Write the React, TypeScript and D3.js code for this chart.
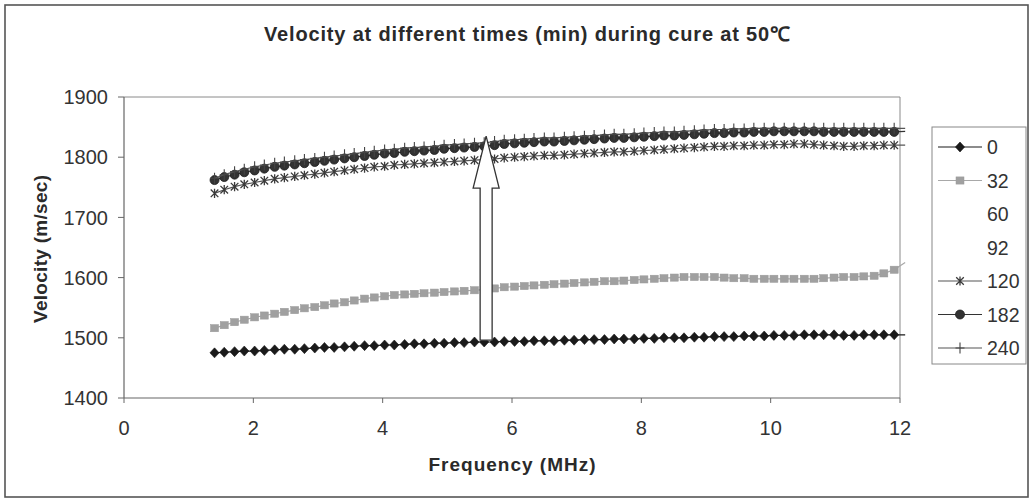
import React from 'react';
import * as d3 from 'd3';

const frequencies = [
  1.40, 1.55, 1.71, 1.86, 2.02, 2.17, 2.33, 2.48, 2.64, 2.79,
  2.95, 3.10, 3.25, 3.41, 3.56, 3.72, 3.87, 4.03, 4.18, 4.34,
  4.49, 4.64, 4.80, 4.95, 5.11, 5.26, 5.42, 5.57, 5.73, 5.88,
  6.04, 6.19, 6.34, 6.50, 6.65, 6.81, 6.96, 7.12, 7.27, 7.43,
  7.58, 7.73, 7.89, 8.04, 8.20, 8.35, 8.51, 8.66, 8.82, 8.97,
  9.13, 9.28, 9.43, 9.59, 9.74, 9.90, 10.05, 10.21, 10.36, 10.52,
  10.67, 10.82, 10.98, 11.13, 11.29, 11.44, 11.60, 11.75, 11.91,
];
const tailFrequency = 12.08;

const v0 = [
  1475, 1476, 1477, 1478, 1478, 1479, 1480, 1481, 1481, 1482,
  1483, 1484, 1484, 1485, 1486, 1487, 1487, 1488, 1488, 1489,
  1490, 1490, 1491, 1491, 1492, 1492, 1493, 1493, 1493, 1494,
  1494, 1494, 1495, 1495, 1495, 1496, 1496, 1497, 1497, 1497,
  1498, 1498, 1498, 1499, 1499, 1500, 1500, 1500, 1501, 1501,
  1502, 1502, 1502, 1503, 1503, 1503, 1504, 1504, 1504, 1505,
  1505, 1505, 1505, 1504, 1504, 1505, 1505, 1505, 1505,
];
const v32 = [
  1516, 1521, 1526, 1530, 1534, 1537, 1540, 1543, 1546, 1549,
  1551, 1554, 1557, 1559, 1562, 1565, 1567, 1569, 1571, 1572,
  1573, 1574, 1575, 1576, 1577, 1578, 1579, 1580, 1582, 1584,
  1585, 1586, 1587, 1588, 1589, 1590, 1591, 1592, 1593, 1594,
  1594, 1595, 1596, 1597, 1598, 1599, 1600, 1601, 1601, 1601,
  1601, 1600, 1599, 1599, 1598, 1598, 1598, 1598, 1598, 1598,
  1598, 1599, 1600, 1601, 1601, 1602, 1603, 1607, 1613,
];
const v120 = [
  1740, 1746, 1751, 1755, 1758, 1761, 1764, 1766, 1768, 1770,
  1772, 1774, 1776, 1778, 1780, 1782, 1784, 1785, 1787, 1788,
  1789, 1790, 1791, 1792, 1793, 1794, 1795, 1796, 1797, 1799,
  1800, 1801, 1802, 1803, 1803, 1804, 1805, 1806, 1807, 1808,
  1809, 1809, 1810, 1811, 1812, 1813, 1814, 1815, 1816, 1817,
  1818, 1818, 1819, 1819, 1820, 1820, 1821, 1821, 1822, 1822,
  1821, 1820, 1819, 1818, 1818, 1819, 1819, 1820, 1820,
];
const v182 = [
  1762, 1767, 1771, 1775, 1778, 1781, 1784, 1786, 1788, 1790,
  1792, 1794, 1796, 1798, 1800, 1802, 1804, 1806, 1807, 1809,
  1810, 1811, 1812, 1814, 1815, 1816, 1817, 1818, 1820, 1822,
  1823, 1824, 1825, 1826, 1826, 1827, 1828, 1829, 1830, 1831,
  1832, 1832, 1833, 1834, 1835, 1836, 1836, 1837, 1838, 1839,
  1840, 1840, 1841, 1841, 1842, 1842, 1843, 1843, 1843, 1843,
  1843, 1842, 1842, 1842, 1842, 1842, 1842, 1842, 1842,
];
const v240 = [
  1765, 1771, 1776, 1780, 1784, 1787, 1790, 1792, 1794, 1796,
  1798, 1800, 1802, 1804, 1806, 1808, 1810, 1812, 1813, 1815,
  1816, 1817, 1818, 1820, 1821, 1822, 1823, 1824, 1826, 1828,
  1829, 1830, 1831, 1832, 1832, 1833, 1834, 1835, 1836, 1837,
  1838, 1838, 1839, 1840, 1841, 1842, 1842, 1843, 1844, 1845,
  1846, 1846, 1847, 1847, 1848, 1848, 1848, 1848, 1848, 1848,
  1848, 1848, 1848, 1848, 1848, 1848, 1848, 1848, 1848,
];

const legendNames = ['0', '32', '60', '92', '120', '182', '240'];
const tailValues = [1505, 1625, 1820, 1843, 1848];
const xTicks = [0, 2, 4, 6, 8, 10, 12];
const yTicks = [1400, 1500, 1600, 1700, 1800, 1900];
const arrowFrequency = 5.6;
const arrowFrom = 1496;
const arrowTo = 1835;

type Marker = 'diamond' | 'square' | 'none' | 'asterisk' | 'circle' | 'plus';
interface SeriesDef { name: string; values: number[] | null; tail: number | null; marker: Marker; line: string; fill: string; stroke: string; }

const seriesDefs: SeriesDef[] = [
  { name: legendNames[0], values: v0, tail: tailValues[0], marker: 'diamond', line: '#1a1a1a', fill: '#1a1a1a', stroke: '#1a1a1a' },
  { name: legendNames[1], values: v32, tail: tailValues[1], marker: 'square', line: '#a8a8a8', fill: '#a0a0a0', stroke: '#9a9a9a' },
  { name: legendNames[2], values: null, tail: null, marker: 'none', line: 'none', fill: 'none', stroke: 'none' },
  { name: legendNames[3], values: null, tail: null, marker: 'none', line: 'none', fill: 'none', stroke: 'none' },
  { name: legendNames[4], values: v120, tail: tailValues[2], marker: 'asterisk', line: '#555', fill: 'none', stroke: '#3a3a3a' },
  { name: legendNames[5], values: v182, tail: tailValues[3], marker: 'circle', line: '#333', fill: '#333', stroke: '#1e1e1e' },
  { name: legendNames[6], values: v240, tail: tailValues[4], marker: 'plus', line: '#555', fill: 'none', stroke: '#444' },
];

const FONT = '"Liberation Sans", Arial, Helvetica, sans-serif';

function MarkerShape({ kind, x, y, fill, stroke }: { kind: Marker; x: number; y: number; fill: string; stroke: string }) {
  switch (kind) {
    case 'diamond':
      return <path d={`M${x},${y - 5}L${x + 4.6},${y}L${x},${y + 5}L${x - 4.6},${y}Z`} fill={fill} stroke={stroke} strokeWidth={0.6} />;
    case 'square':
      return <rect x={x - 4} y={y - 3.6} width={8} height={7.2} fill={fill} stroke={stroke} strokeWidth={0.5} />;
    case 'circle':
      return <circle cx={x} cy={y} r={4.5} fill={fill} stroke={stroke} strokeWidth={0.8} />;
    case 'asterisk':
      return (
        <path d={`M${x - 3.8},${y - 3.8}L${x + 3.8},${y + 3.8}M${x - 3.8},${y + 3.8}L${x + 3.8},${y - 3.8}M${x},${y - 4.6}L${x},${y + 4.6}`}
          fill="none" stroke={stroke} strokeWidth={1.3} />
      );
    case 'plus':
      return <path d={`M${x - 4.5},${y}L${x + 4.5},${y}M${x},${y - 5.5}L${x},${y + 5.5}`} fill="none" stroke={stroke} strokeWidth={1.1} />;
    default:
      return null;
  }
}

export default function App() {
  const W = 1033, H = 501;
  const x = d3.scaleLinear().domain([0, 12]).range([124, 900]);
  const y = d3.scaleLinear().domain([1400, 1900]).range([398, 97]);
  const line = d3.line<[number, number]>().x(d => x(d[0])).y(d => y(d[1]));

  const ax = x(arrowFrequency);
  const ay0 = y(arrowFrom);
  const ay1 = y(arrowTo);
  const headH = 52, headW = 13, shaftW = 6;
  const arrowPts = [
    [ax - shaftW, ay0], [ax + shaftW, ay0], [ax + shaftW, ay1 + headH], [ax + headW, ay1 + headH],
    [ax, ay1], [ax - headW, ay1 + headH], [ax - shaftW, ay1 + headH],
  ].map(p => p.join(',')).join(' ');

  const legendX = 932, legendY = 127, legendW = 94, legendH = 237;
  const legendRow0 = 147, legendStep = 33.5;

  return (
    <svg width={W} height={H} style={{ position: 'absolute', left: 0, top: 0, background: '#fff' }} fontFamily={FONT}>
      <rect x={5} y={5} width={1023} height={492} fill="#fff" stroke="#555" strokeWidth={1.6} />
      <text x={527} y={41} textAnchor="middle" fontSize={20} fontWeight="bold" fill="#2a2a2a"
        textLength={526} lengthAdjust="spacing">
        Velocity at different times (min) during cure at 50℃
      </text>

      {/* plot frame */}
      <line x1={x(0)} x2={x(12)} y1={y(1900)} y2={y(1900)} stroke="#8a8a8a" strokeWidth={1} />
      <line x1={x(12)} x2={x(12)} y1={y(1900)} y2={y(1400)} stroke="#8a8a8a" strokeWidth={1} />
      <line x1={x(0)} x2={x(0)} y1={y(1900)} y2={y(1400)} stroke="#666" strokeWidth={1.2} />
      <line x1={x(0)} x2={x(12)} y1={y(1400)} y2={y(1400)} stroke="#666" strokeWidth={1.2} />

      {yTicks.map(t => (
        <g key={'y' + t}>
          <line x1={x(0) - 6} x2={x(0)} y1={y(t)} y2={y(t)} stroke="#666" strokeWidth={1} />
          <text x={108} y={y(t)} dy="0.36em" textAnchor="end" fontSize={20} fill="#333">{t}</text>
        </g>
      ))}
      {xTicks.map(t => (
        <g key={'x' + t}>
          <line x1={x(t)} x2={x(t)} y1={y(1400)} y2={y(1400) + 5} stroke="#666" strokeWidth={1} />
          <text x={x(t)} y={435} textAnchor="middle" fontSize={20} fill="#333">{t}</text>
        </g>
      ))}

      <text x={512} y={471} textAnchor="middle" fontSize={19} fontWeight="bold" fill="#2a2a2a"
        textLength={167} lengthAdjust="spacing">Frequency (MHz)</text>
      <text transform="translate(47,249) rotate(-90)" textAnchor="middle" fontSize={19} fontWeight="bold" fill="#2a2a2a"
        textLength={148} lengthAdjust="spacing">Velocity (m/sec)</text>

      {/* series */}
      {seriesDefs.map(s => {
        if (!s.values) return null;
        const pts: [number, number][] = frequencies.map((f, i) => [f, s.values![i]]);
        const full: [number, number][] = s.tail != null ? [...pts, [tailFrequency, s.tail]] : pts;
        return (
          <g key={'s' + s.name}>
            <path d={line(full) || ''} fill="none" stroke={s.line} strokeWidth={1.2} />
            {pts.map((p, i) => (
              <MarkerShape key={i} kind={s.marker} x={x(p[0])} y={y(p[1])} fill={s.fill} stroke={s.stroke} />
            ))}
          </g>
        );
      })}

      {/* arrow */}
      <polygon points={arrowPts} fill="#fff" stroke="#333" strokeWidth={1.3} />

      {/* legend */}
      <rect x={legendX} y={legendY} width={legendW} height={legendH} fill="#fff" stroke="#888" strokeWidth={1} />
      {seriesDefs.map((s, i) => {
        const ly = legendRow0 + i * legendStep;
        return (
          <g key={'l' + s.name}>
            {s.line !== 'none' && <line x1={938} x2={982} y1={ly} y2={ly} stroke={s.line} strokeWidth={1.2} />}
            <MarkerShape kind={s.marker} x={960} y={ly} fill={s.fill} stroke={s.stroke} />
            <text x={987} y={ly} dy="0.36em" fontSize={19.5} fill="#333">{s.name}</text>
          </g>
        );
      })}
    </svg>
  );
}
